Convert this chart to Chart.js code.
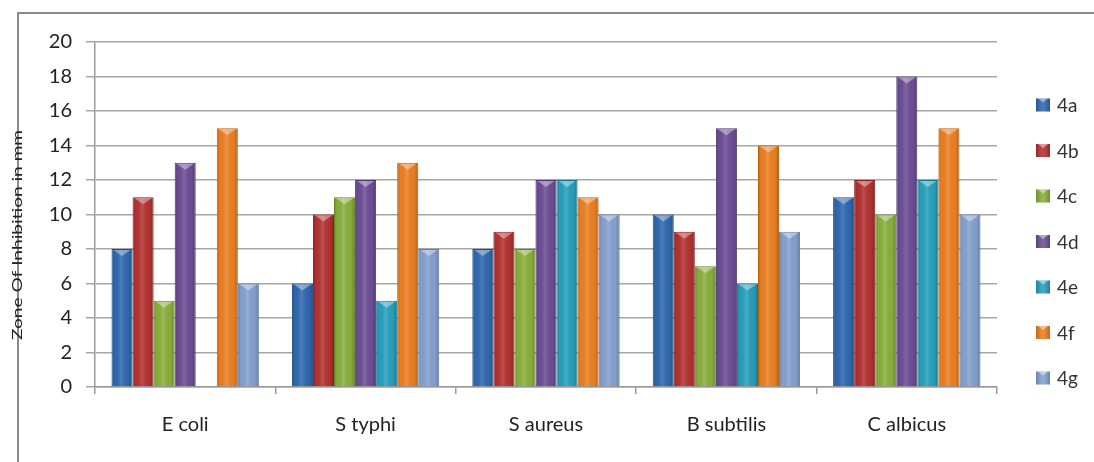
<!DOCTYPE html>
<html>
<head>
<meta charset="utf-8">
<script src="https://cdn.jsdelivr.net/npm/chart.js@4.4.1/dist/chart.umd.min.js"></script>
<style>
  body { margin: 0; background: #fff; }
  #wrap { position: relative; width: 1094px; height: 462px; }
</style>
</head>
<body>
<div id="wrap"><canvas id="chart" width="1094" height="462"></canvas></div>
<script>
const organisms = ["E coli", "S typhi", "S aureus", "B subtilis", "C albicus"];
const compounds = ["4a", "4b", "4c", "4d", "4e", "4f", "4g"];

// zone of inhibition (mm) per compound, in organism order
const zone4a = [8, 6, 8, 10, 11];
const zone4b = [11, 10, 9, 9, 12];
const zone4c = [5, 11, 8, 7, 10];
const zone4d = [13, 12, 12, 15, 18];
const zone4e = [null, 5, 12, 6, 12];
const zone4f = [15, 13, 11, 14, 15];
const zone4g = [6, 8, 10, 9, 10];

const yMin = 0;
const yMax = 20;
const yStep = 2;

const fillColors = ["#2F69B1", "#B53232", "#8AB03C", "#6D4E97", "#27A0BD", "#ED8022", "#85A2D2"];
const edgeColors = ["#1F4D86", "#842121", "#668529", "#4F376F", "#1A7892", "#B8600F", "#5F7DAE"];

const seriesValues = [zone4a, zone4b, zone4c, zone4d, zone4e, zone4f, zone4g];

const datasets = compounds.map((name, i) => ({
  label: name,
  data: seriesValues[i],
  backgroundColor: fillColors[i],
  borderColor: edgeColors[i],
  borderWidth: 1,
  categoryPercentage: 0.817,
  barPercentage: 1.0,
}));

// glossy shading, outer frame, legend and rotated axis title
const decorPlugin = {
  id: "decor",
  beforeDraw(chart) {
    const ctx = chart.ctx;
    ctx.save();
    ctx.fillStyle = "#ffffff";
    ctx.fillRect(0, 0, chart.width, chart.height);
    ctx.strokeStyle = "#8c8c8c";
    ctx.lineWidth = 2;
    ctx.strokeRect(18, 13, chart.width + 40, chart.height + 40);
    ctx.restore();
  },
  afterDatasetsDraw(chart) {
    const ctx = chart.ctx;
    ctx.save();
    chart.data.datasets.forEach((ds, di) => {
      const meta = chart.getDatasetMeta(di);
      meta.data.forEach((bar, idx) => {
        if (ds.data[idx] == null) return;
        const { x, y, base, width } = bar.getProps(["x", "y", "base", "width"], true);
        const left = x - width / 2;
        const g = ctx.createLinearGradient(left, 0, left + width, 0);
        g.addColorStop(0, "rgba(0,0,0,0.22)");
        g.addColorStop(0.15, "rgba(0,0,0,0.02)");
        g.addColorStop(0.45, "rgba(255,255,255,0.14)");
        g.addColorStop(0.8, "rgba(0,0,0,0.02)");
        g.addColorStop(1, "rgba(0,0,0,0.25)");
        ctx.fillStyle = g;
        ctx.fillRect(left + 1, y + 1, width - 2, base - y - 1);
        // bevel triangle on top
        ctx.fillStyle = "rgba(255,255,255,0.38)";
        ctx.beginPath();
        ctx.moveTo(left + 2, y + 1);
        ctx.lineTo(left + width - 2, y + 1);
        ctx.lineTo(x, y + 7);
        ctx.closePath();
        ctx.fill();
      });
    });
    ctx.restore();
  },
  afterDraw(chart) {
    const ctx = chart.ctx;
    ctx.save();
    // legend
    ctx.font = "19px Lato";
    ctx.textBaseline = "middle";
    ctx.textAlign = "left";
    chart.data.datasets.forEach((ds, i) => {
      const cy = 105 + i * 45.5;
      const bx = 1036, bw = 14, bh = 13;
      ctx.fillStyle = ds.backgroundColor;
      ctx.fillRect(bx, cy - bh / 2, bw, bh);
      const g = ctx.createLinearGradient(bx, 0, bx + bw, 0);
      g.addColorStop(0, "rgba(0,0,0,0.2)");
      g.addColorStop(0.5, "rgba(255,255,255,0.12)");
      g.addColorStop(1, "rgba(0,0,0,0.2)");
      ctx.fillStyle = g;
      ctx.fillRect(bx, cy - bh / 2, bw, bh);
      ctx.fillStyle = "rgba(255,255,255,0.45)";
      ctx.beginPath();
      ctx.moveTo(bx + 2, cy - bh / 2);
      ctx.lineTo(bx + bw - 2, cy - bh / 2);
      ctx.lineTo(bx + bw / 2, cy - bh / 2 + 4);
      ctx.closePath();
      ctx.fill();
      ctx.fillStyle = "#333";
      ctx.fillText(ds.label, 1057, cy + 1);
    });
    // y axis title, narrow and long like the original
    const title = "Zone Of Inhibition in mm";
    ctx.font = "14px Lato";
    const w = ctx.measureText(title).width;
    ctx.translate(17, 235);
    ctx.rotate(-Math.PI / 2);
    ctx.scale(210 / w, 1);
    ctx.textAlign = "center";
    ctx.textBaseline = "middle";
    ctx.fillStyle = "#222";
    ctx.fillText(title, 0, 0);
    ctx.restore();
  },
};

new Chart(document.getElementById("chart"), {
  type: "bar",
  data: { labels: organisms, datasets },
  options: {
    responsive: false,
    animation: false,
    layout: { padding: { left: 0, right: 97, top: 0, bottom: 0 } },
    plugins: {
      legend: { display: false },
      tooltip: { enabled: false },
    },
    scales: {
      x: {
        grid: {
          offset: true,
          drawOnChartArea: false,
          drawTicks: true,
          tickLength: 7,
          color: "#9a9a9a",
          lineWidth: 1.5,
        },
        border: { color: "#9a9a9a", width: 1.5 },
        ticks: {
          color: "#222",
          font: { family: "Lato", size: 20 },
          padding: 19,
        },
        afterFit(scale) {
          scale.height = 75;
        },
      },
      y: {
        min: yMin,
        max: yMax,
        ticks: {
          stepSize: yStep,
          color: "#222",
          font: { family: "Lato", size: 20 },
          padding: 14,
        },
        grid: {
          color: "#a6a6a6",
          lineWidth: 1.5,
          tickLength: 9,
        },
        border: { color: "#9a9a9a", width: 1.5 },
        afterFit(scale) {
          scale.width = 95;
          scale.paddingTop = 42;
        },
      },
    },
  },
  plugins: [decorPlugin],
});
</script>
</body>
</html>
